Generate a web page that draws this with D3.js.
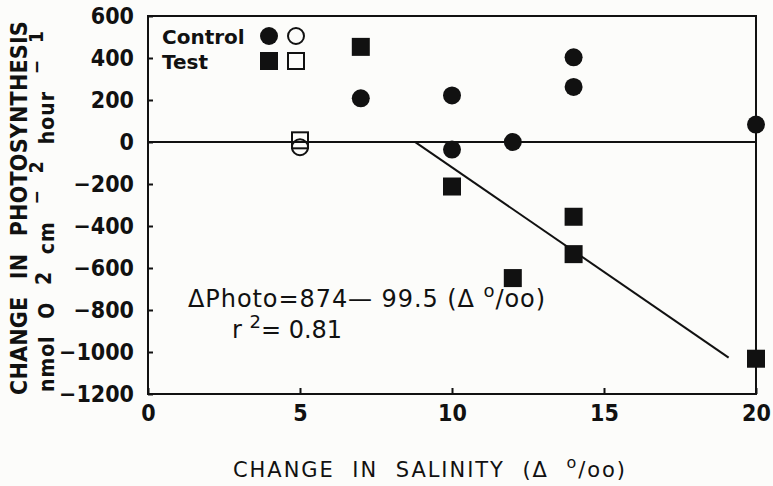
<!DOCTYPE html>
<html><head><meta charset="utf-8">
<script src="https://cdn.jsdelivr.net/npm/d3@7"></script>
<style>body{margin:0;background:#fcfcfa;} text{fill:#111;}</style>
</head><body>
<svg id="c" width="773" height="486"></svg>
<script>
const controlX = [7, 10, 10, 12, 14, 14, 20];
const controlY = [208, 222, -36, 0, 403, 262, 83];
const controlOpenX = [5];
const controlOpenY = [-25];
const testX = [7, 10, 12, 14, 14, 20];
const testY = [453, -212, -648, -356, -534, -1032];
const testOpenX = [5];
const testOpenY = [8];
const fitX = [8.78, 19.1];
const fitIntercept = 874, fitSlope = -99.5;
const xTicks = [0, 5, 10, 15, 20];
const yTicks = [600, 400, 200, 0, -200, -400, -600, -800, -1000, -1200];

const svg = d3.select("#c");
const L = 148, R = 756, T = 16, B = 394;
const x = d3.scaleLinear().domain([0, 20]).range([L, R]);
const y = d3.scaleLinear().domain([-1200, 600]).range([B, T]);
const ink = "#111";
const cond = "'DejaVu Sans Condensed', 'DejaVu Sans'";
const font = "'DejaVu Sans'";

function fitWidth(sel, target, prop) {
  const n = sel.text().length;
  const w = sel.node().getComputedTextLength();
  sel.attr(prop || "letter-spacing", (target - w) / n);
}
function fitWords(sel, target) {
  const n = sel.text().split(" ").length - 1;
  const w = sel.node().getComputedTextLength();
  sel.attr("word-spacing", (target - w) / n);
}

// frame
svg.append("rect").attr("x", L).attr("y", T).attr("width", R - L).attr("height", B - T)
  .attr("fill", "none").attr("stroke", ink).attr("stroke-width", 2);

// axes
const yAxis = d3.axisLeft(y).tickValues(yTicks).tickSize(-5).tickPadding(14)
  .tickFormat(d => d < 0 ? "\u2212" + Math.abs(d) : d);
const gy = svg.append("g").attr("transform", `translate(${L},0)`).call(yAxis);
gy.select(".domain").remove();
gy.selectAll("line").attr("stroke", ink).attr("stroke-width", 2);
gy.selectAll("text").attr("font-family", cond).attr("font-weight", "bold").attr("font-size", 23).attr("fill", ink);

const xAxis = d3.axisBottom(x).tickValues(xTicks).tickSize(-6).tickPadding(11);
const gx = svg.append("g").attr("transform", `translate(0,${B})`).call(xAxis);
gx.select(".domain").remove();
gx.selectAll("line").attr("stroke", ink).attr("stroke-width", 2);
gx.selectAll("text").attr("font-family", cond).attr("font-weight", "bold").attr("font-size", 23).attr("fill", ink);

// zero line
svg.append("line").attr("x1", x(0)).attr("x2", x(20)).attr("y1", y(0)).attr("y2", y(0))
  .attr("stroke", ink).attr("stroke-width", 2);

// fit line
svg.append("path").datum(fitX)
  .attr("d", d3.line().x(d => x(d)).y(d => y(fitIntercept + fitSlope * d)))
  .attr("stroke", ink).attr("stroke-width", 2).attr("fill", "none");

const S = 18, Rr = 9;
svg.selectAll(".oc").data(controlOpenX).enter().append("circle")
  .attr("cx", d => x(d)).attr("cy", (d, i) => y(controlOpenY[i])).attr("r", Rr - 1)
  .attr("fill", "none").attr("stroke", ink).attr("stroke-width", 2);
svg.selectAll(".os").data(testOpenX).enter().append("rect")
  .attr("x", d => x(d) - (S - 2) / 2).attr("y", (d, i) => y(testOpenY[i]) - (S - 2) / 2)
  .attr("width", S - 2).attr("height", S - 2)
  .attr("fill", "none").attr("stroke", ink).attr("stroke-width", 2);
svg.selectAll(".fc").data(controlX).enter().append("circle")
  .attr("cx", d => x(d)).attr("cy", (d, i) => y(controlY[i])).attr("r", Rr).attr("fill", ink);
svg.selectAll(".fs").data(testX).enter().append("rect")
  .attr("x", d => x(d) - S / 2).attr("y", (d, i) => y(testY[i]) - S / 2)
  .attr("width", S).attr("height", S).attr("fill", ink);

// legend
const lg = svg.append("g");
lg.append("text").attr("x", 162).attr("y", 44).text("Control")
  .attr("font-family", font).attr("font-weight", "bold").attr("font-size", 20);
lg.append("text").attr("x", 162).attr("y", 69).text("Test")
  .attr("font-family", font).attr("font-weight", "bold").attr("font-size", 20);
lg.append("circle").attr("cx", 269).attr("cy", 36).attr("r", 9).attr("fill", ink);
lg.append("circle").attr("cx", 296).attr("cy", 36).attr("r", 8).attr("fill", "none").attr("stroke", ink).attr("stroke-width", 2);
lg.append("rect").attr("x", 260).attr("y", 52).attr("width", 18).attr("height", 18).attr("fill", ink);
lg.append("rect").attr("x", 288).attr("y", 53).attr("width", 16).attr("height", 16).attr("fill", "none").attr("stroke", ink).attr("stroke-width", 2);

// annotation
const eq = svg.append("text").attr("x", 188).attr("y", 307)
  .attr("font-family", font).attr("font-size", 24);
eq.append("tspan").text("\u0394Photo=874\u2014 99.5 (\u0394 ");
eq.append("tspan").attr("dy", -10).attr("font-size", 18).text("o");
eq.append("tspan").attr("dy", 10).text("/oo)");
fitWidth(eq, 358);
const r2 = svg.append("text").attr("x", 232).attr("y", 338)
  .attr("font-family", font).attr("font-size", 24);
r2.append("tspan").text("r ");
r2.append("tspan").attr("dy", -10).attr("font-size", 18).text("2");
r2.append("tspan").attr("dy", 10).text("= 0.81");

// x title
const xt = svg.append("text").attr("x", 233).attr("y", 477)
  .attr("font-family", font).attr("font-size", 21).attr("word-spacing", 9);
xt.append("tspan").text("CHANGE IN SALINITY (\u0394 ");
xt.append("tspan").attr("dy", -9).attr("font-size", 16).text("o");
xt.append("tspan").attr("dy", 9).text("/oo)");
fitWidth(xt, 394);

// y title
const yt1 = svg.append("text").attr("transform", "translate(27,395) rotate(-90)")
  .attr("font-family", cond).attr("font-weight", "bold")
  .attr("font-size", 23).attr("word-spacing", 10).text("CHANGE IN PHOTOSYNTHESIS");
fitWidth(yt1, 374);
const yt2 = svg.append("text").attr("transform", "translate(54,392) rotate(-90)")
  .attr("font-family", cond).attr("font-weight", "bold")
  .attr("font-size", 21).attr("letter-spacing", 1);
yt2.append("tspan").text("nmol O ");
yt2.append("tspan").attr("dy", -3).text("2 ");
yt2.append("tspan").attr("dy", 3).text("cm ");
yt2.append("tspan").attr("dy", -11).attr("font-size", 19).text("\u2212 2 ");
yt2.append("tspan").attr("dy", 11).text("hour ");
yt2.append("tspan").attr("dy", -11).attr("font-size", 19).text("\u2212 1");
fitWords(yt2, 362);
</script>
</body></html>
